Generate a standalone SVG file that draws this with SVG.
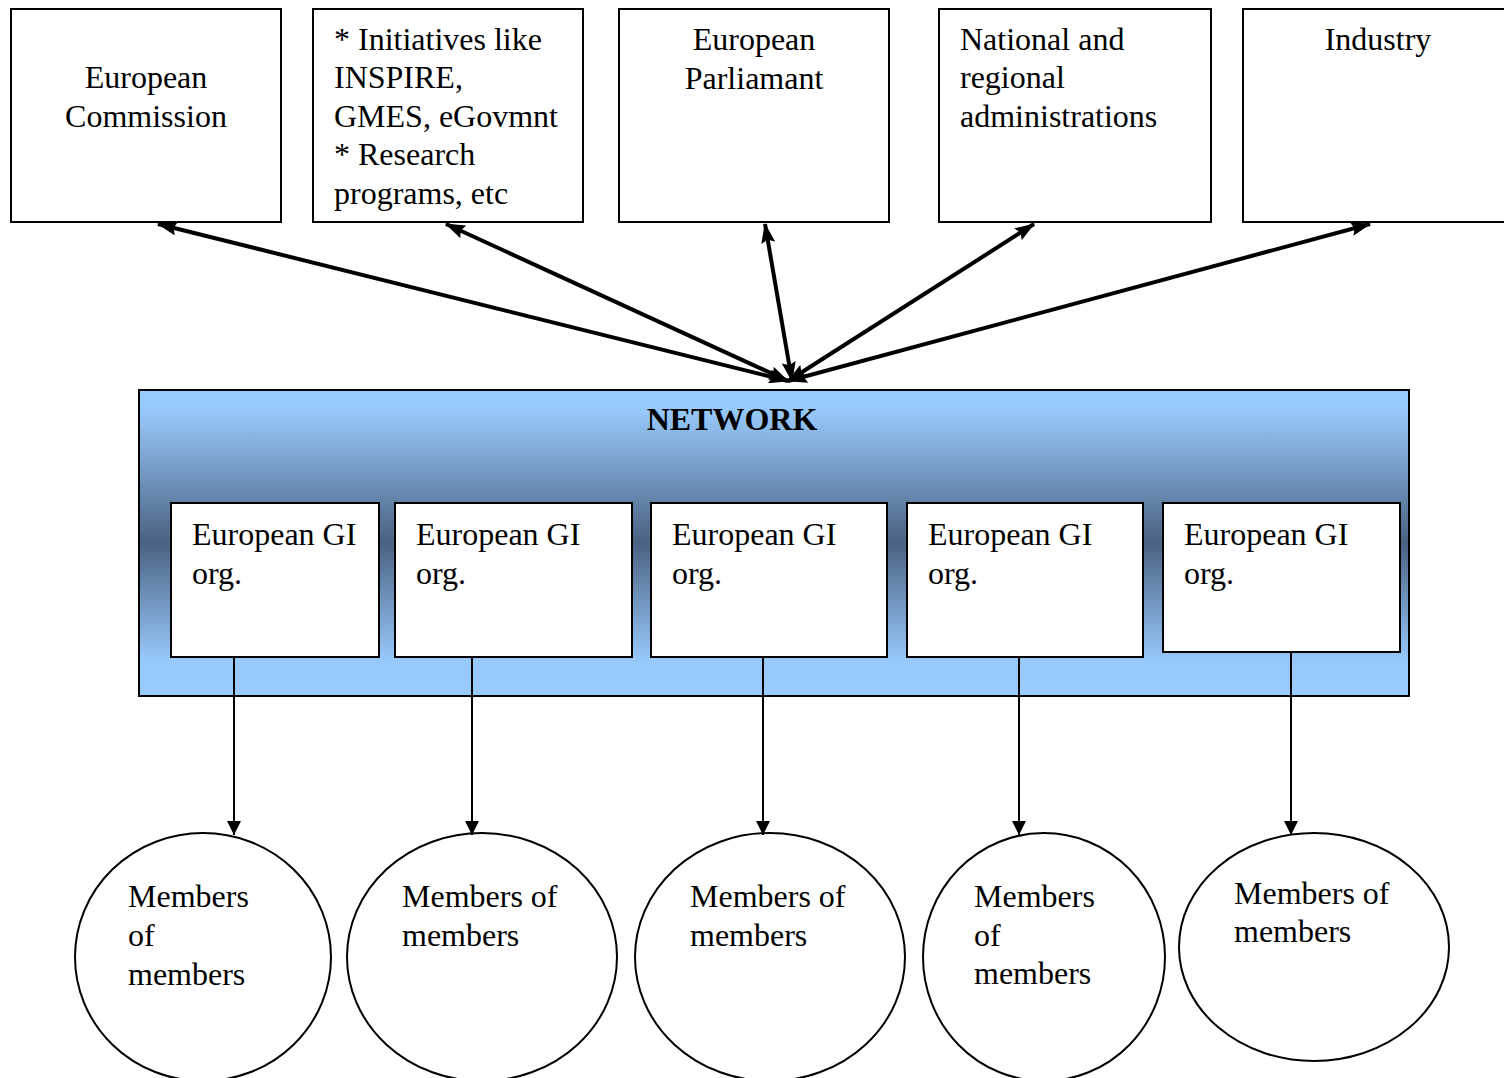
<svg xmlns="http://www.w3.org/2000/svg" width="1504" height="1078" viewBox="0 0 1504 1078">
<style>
text{font-family:"Liberation Serif","Times New Roman",serif;font-size:32px;fill:#000}
.c{text-anchor:middle}
.box{fill:#fff;stroke:#000;stroke-width:2}
.circ{fill:#fff;stroke:#000;stroke-width:2}
.thick{stroke:#000;stroke-width:4;fill:none}
.thin{stroke:#000;stroke-width:2;fill:none}
</style>
<defs>
<linearGradient id="net" x1="0" y1="390" x2="0" y2="696" gradientUnits="userSpaceOnUse">
<stop offset="0" stop-color="#99CCFF"/>
<stop offset="0.07" stop-color="#97C8FA"/>
<stop offset="0.5" stop-color="#4A6282"/>
<stop offset="0.88" stop-color="#97C8FA"/>
<stop offset="1" stop-color="#99CCFF"/>
</linearGradient>
<marker id="big" viewBox="0 0 20 14" refX="19" refY="7" markerWidth="20" markerHeight="14" markerUnits="userSpaceOnUse" orient="auto-start-reverse">
<path d="M0,0 L20,7 L0,14 L3,7 z" fill="#000"/>
</marker>
<marker id="small" viewBox="0 0 14 14" refX="14" refY="7" markerWidth="14" markerHeight="14" markerUnits="userSpaceOnUse" orient="auto">
<path d="M0,0 L14,7 L0,14 z" fill="#000"/>
</marker>
</defs>

<g id="n-commission">
<rect class="box" x="11" y="9" width="270" height="213"/>
<text class="c" x="146" y="88">European</text>
<text class="c" x="146" y="127">Commission</text>
</g>
<g id="n-initiatives">
<rect class="box" x="313" y="9" width="270" height="213"/>
<text x="334" y="50">* Initiatives like</text>
<text x="334" y="88">INSPIRE,</text>
<text x="334" y="127">GMES, eGovmnt</text>
<text x="334" y="165">* Research</text>
<text x="334" y="204">programs, etc</text>
</g>
<g id="n-parliament">
<rect class="box" x="619" y="9" width="270" height="213"/>
<text class="c" x="754" y="50">European</text>
<text class="c" x="754" y="89">Parliamant</text>
</g>
<g id="n-national">
<rect class="box" x="939" y="9" width="272" height="213"/>
<text x="960" y="50">National and</text>
<text x="960" y="88">regional</text>
<text x="960" y="127">administrations</text>
</g>
<g id="n-industry">
<rect class="box" x="1243" y="9" width="280" height="213"/>
<text class="c" x="1378" y="50">Industry</text>
</g>

<g id="n-network">
<rect x="139" y="390" width="1270" height="306" fill="url(#net)" stroke="#000" stroke-width="2"/>
<text class="c" x="732" y="430" font-weight="bold">NETWORK</text>
</g>

<g id="n-gi1">
<rect class="box" x="171" y="503" width="208" height="154"/>
<text x="192" y="545">European GI</text>
<text x="192" y="584">org.</text>
</g>
<g id="n-gi2">
<rect class="box" x="395" y="503" width="237" height="154"/>
<text x="416" y="545">European GI</text>
<text x="416" y="584">org.</text>
</g>
<g id="n-gi3">
<rect class="box" x="651" y="503" width="236" height="154"/>
<text x="672" y="545">European GI</text>
<text x="672" y="584">org.</text>
</g>
<g id="n-gi4">
<rect class="box" x="907" y="503" width="236" height="154"/>
<text x="928" y="545">European GI</text>
<text x="928" y="584">org.</text>
</g>
<g id="n-gi5">
<rect class="box" x="1163" y="503" width="237" height="149"/>
<text x="1184" y="545">European GI</text>
<text x="1184" y="584">org.</text>
</g>

<g id="n-m1">
<ellipse class="circ" cx="203" cy="957" rx="128" ry="124"/>
<text x="128" y="907">Members</text>
<text x="128" y="946">of</text>
<text x="128" y="985">members</text>
</g>
<g id="n-m2">
<ellipse class="circ" cx="482" cy="957" rx="135" ry="124"/>
<text x="402" y="907">Members of</text>
<text x="402" y="946">members</text>
</g>
<g id="n-m3">
<ellipse class="circ" cx="770" cy="957" rx="135" ry="124"/>
<text x="690" y="907">Members of</text>
<text x="690" y="946">members</text>
</g>
<g id="n-m4">
<ellipse class="circ" cx="1044" cy="957" rx="121" ry="124"/>
<text x="974" y="907">Members</text>
<text x="974" y="946">of</text>
<text x="974" y="984">members</text>
</g>
<g id="n-m5">
<ellipse class="circ" cx="1314" cy="947" rx="135" ry="114"/>
<text x="1234" y="904">Members of</text>
<text x="1234" y="942">members</text>
</g>

<g id="connectors">
<line class="thick" x1="788" y1="381" x2="158" y2="224" marker-start="url(#big)" marker-end="url(#big)"/>
<line class="thick" x1="788" y1="381" x2="446" y2="224" marker-start="url(#big)" marker-end="url(#big)"/>
<line class="thick" x1="792" y1="381" x2="765" y2="224" marker-start="url(#big)" marker-end="url(#big)"/>
<line class="thick" x1="788" y1="381" x2="1034" y2="224" marker-start="url(#big)" marker-end="url(#big)"/>
<line class="thick" x1="788" y1="381" x2="1370" y2="224" marker-start="url(#big)" marker-end="url(#big)"/>
<line class="thin" x1="234" y1="657" x2="234" y2="835" marker-end="url(#small)"/>
<line class="thin" x1="472" y1="657" x2="472" y2="835" marker-end="url(#small)"/>
<line class="thin" x1="763" y1="657" x2="763" y2="835" marker-end="url(#small)"/>
<line class="thin" x1="1019" y1="657" x2="1019" y2="835" marker-end="url(#small)"/>
<line class="thin" x1="1291" y1="652" x2="1291" y2="835" marker-end="url(#small)"/>
</g>
</svg>
